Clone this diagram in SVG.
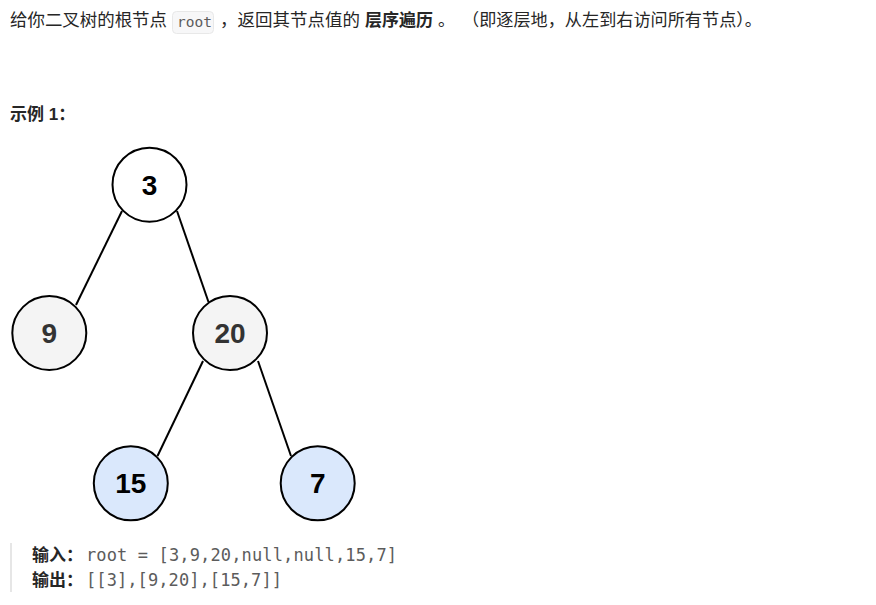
<svg xmlns="http://www.w3.org/2000/svg" width="876" height="605" viewBox="0 0 876 605">
<style>
.t{font-family:"Liberation Sans","Noto Sans CJK SC",sans-serif;font-size:17px;fill:#262626}
.b{font-weight:bold}
.m{font-family:"DejaVu Sans Mono","Liberation Mono",monospace;fill:#5c5c5c}
.n{stroke:#000;stroke-width:2}
.lbl{font-family:"Liberation Sans",Arial,sans-serif;font-weight:bold;font-size:28px;text-anchor:middle}
.e{stroke:#000;stroke-width:2;fill:none}
</style>
<rect width="876" height="605" fill="#fff"/>
<g id="intro">
<text class="t" x="10" y="26" textLength="157" lengthAdjust="spacingAndGlyphs">给你二叉树的根节点</text>
<rect x="172.5" y="11.5" width="41" height="22" rx="4" fill="#f7f7f8" stroke="#e8e8e8"/>
<text class="m" x="177" y="27" font-size="14.5">root</text>
<text class="t" x="220" y="26" textLength="140" lengthAdjust="spacingAndGlyphs">，返回其节点值的</text>
<text class="t b" x="365" y="26" textLength="68" lengthAdjust="spacingAndGlyphs">层序遍历</text>
<text class="t" x="438" y="26">。</text>
<text class="t" x="462" y="26" textLength="300" lengthAdjust="spacingAndGlyphs">（即逐层地，从左到右访问所有节点）。</text>
</g>
<text class="t b" x="10" y="120">示例 1：</text>
<g id="edges">
<line class="e" x1="122" y1="211" x2="76" y2="305"/>
<line class="e" x1="177" y1="211" x2="208.5" y2="302"/>
<line class="e" x1="203" y1="361" x2="157.5" y2="456"/>
<line class="e" x1="258" y1="361" x2="291" y2="456"/>
</g>
<g id="n3"><circle class="n" cx="149.5" cy="184.7" r="37" fill="#fff"/><text class="lbl" x="149.5" y="194.5" fill="#000">3</text></g>
<g id="n9"><circle class="n" cx="49.3" cy="333" r="37" fill="#f4f4f4"/><text class="lbl" x="49.3" y="343" fill="#333">9</text></g>
<g id="n20"><circle class="n" cx="230" cy="333" r="37" fill="#f4f4f4"/><text class="lbl" x="230" y="343" fill="#333">20</text></g>
<g id="n15"><circle class="n" cx="130.8" cy="483.3" r="37" fill="#dae8fc"/><text class="lbl" x="130.8" y="493.3" fill="#000">15</text></g>
<g id="n7"><circle class="n" cx="317.7" cy="483.3" r="37" fill="#dae8fc"/><text class="lbl" x="317.7" y="493.3" fill="#000">7</text></g>
<g id="example">
<rect x="10" y="543" width="2" height="49" fill="#e6e6e6"/>
<text class="t b" x="32" y="561">输入：</text>
<text class="m" x="86" y="561" font-size="17" textLength="311" lengthAdjust="spacing">root = [3,9,20,null,null,15,7]</text>
<text class="t b" x="32" y="586">输出：</text>
<text class="m" x="86" y="586" font-size="17" textLength="196" lengthAdjust="spacing">[[3],[9,20],[15,7]]</text>
</g>
</svg>
